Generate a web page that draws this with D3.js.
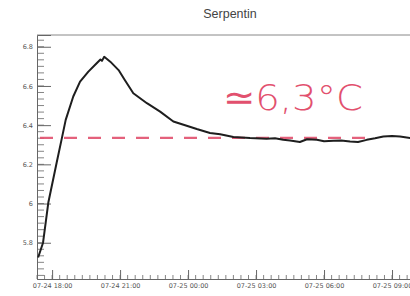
<!DOCTYPE html>
<html><head><meta charset="utf-8">
<script src="https://cdn.jsdelivr.net/npm/d3@7"></script>
<style>html,body{margin:0;padding:0;background:#fff;overflow:hidden}</style>
</head><body><svg id="c" width="410" height="296"></svg>
<script>
// ---- data ----
const title = "Serpentin";
const times = ["07-24 17:23","07-24 17:36","07-24 17:50","07-24 18:12","07-24 18:26","07-24 18:36","07-24 18:56","07-24 19:14","07-24 19:36","07-24 19:58","07-24 20:08","07-24 20:12","07-24 20:18","07-24 20:34","07-24 20:56","07-24 21:12","07-24 21:35","07-24 22:11","07-24 22:46","07-24 23:21","07-24 23:48","07-25 00:23","07-25 00:58","07-25 01:25","07-25 02:00","07-25 02:44","07-25 03:28","07-25 03:50","07-25 04:12","07-25 04:30","07-25 04:56","07-25 05:15","07-25 05:41","07-25 06:00","07-25 06:25","07-25 06:45","07-25 07:09","07-25 07:30","07-25 07:53","07-25 08:15","07-25 08:37","07-25 09:00","07-25 09:21","07-25 09:48"];
const temps = [5.725,5.80,6.005,6.208,6.335,6.427,6.546,6.622,6.673,6.716,6.735,6.728,6.749,6.724,6.681,6.632,6.563,6.512,6.469,6.419,6.402,6.380,6.360,6.354,6.340,6.334,6.331,6.333,6.325,6.322,6.314,6.328,6.325,6.318,6.320,6.322,6.317,6.314,6.325,6.333,6.342,6.345,6.342,6.334];
const refLevel = 6.335;
const refRange = ["07-24 17:20","07-25 08:00"];
const annotation = "≃6,3°C";
const yTicks = [5.8,6.0,6.2,6.4,6.6,6.8];
const xTickLabels = ["07-24 18:00","07-24 21:00","07-25 00:00","07-25 03:00","07-25 06:00","07-25 09:00"];

// ---- setup ----
const parse = d3.timeParse("%Y-%m-%d %H:%M");
const P = s => parse("2024-" + s);
const data = times.map((t,i)=>({t:P(t), v:temps[i]}));
const svg = d3.select("#c");
const L=37, R=423, T=35, B=279;
const x = d3.scaleTime().domain([P("07-24 17:20"), P("07-25 10:22")]).range([L,R]);
const y = d3.scaleLinear().domain([5.615, 6.86]).range([B,T]);
const axisCol = "#666", txtCol = "#555";

// title
svg.append("text").attr("x",230).attr("y",18).attr("text-anchor","middle")
  .attr("font-family","Liberation Sans, Arial, sans-serif").attr("font-size",12.5)
  .attr("fill","#444").text(title);

// frame line
svg.append("line").attr("x1",L).attr("x2",R).attr("y1",T).attr("y2",T).attr("stroke","#888").attr("stroke-width",1);

// y axis minor ticks
const yMinor = d3.range(0, 40).map(i=>5.6 + i*0.2/6).filter(v=>v>y.domain()[0] && v<y.domain()[1]);
const gy = svg.append("g").attr("transform",`translate(${L},0)`);
gy.selectAll("line.mn").data(yMinor).join("line").attr("x1",0).attr("x2",7)
  .attr("y1",d=>y(d)).attr("y2",d=>y(d)).attr("stroke",axisCol).attr("stroke-width",0.8);
const yAxis = d3.axisLeft(y).tickValues(yTicks).tickSize(-14).tickPadding(4)
  .tickFormat(d=>d3.format("~g")(d));
const gya = svg.append("g").attr("transform",`translate(${L},0)`).call(yAxis);
gya.select(".domain").attr("stroke",axisCol);
gya.selectAll(".tick line").attr("stroke",axisCol);
gya.selectAll(".tick text").attr("x",-4).attr("fill",txtCol).attr("font-size",6.5)
  .attr("font-family","DejaVu Sans, sans-serif");

// x axis
const xMinor = d3.timeMinute.every(20).range(x.domain()[0], x.domain()[1]);
const gx = svg.append("g").attr("transform",`translate(0,${B})`);
gx.selectAll("line.mn").data(xMinor).join("line").attr("y1",0).attr("y2",-4)
  .attr("x1",d=>x(d)).attr("x2",d=>x(d)).attr("stroke",axisCol).attr("stroke-width",0.8);
const xAxis = d3.axisBottom(x).tickValues(xTickLabels.map(P)).tickSize(-9).tickPadding(3)
  .tickFormat(d3.timeFormat("%m-%d %H:%M"));
const gxa = svg.append("g").attr("transform",`translate(0,${B})`).call(xAxis);
gxa.select(".domain").attr("stroke",axisCol);
gxa.selectAll(".tick line").attr("stroke",axisCol);
gxa.selectAll(".tick text").attr("y",4).attr("dy","0.71em").attr("fill",txtCol).attr("font-size",6.5)
  .attr("font-family","DejaVu Sans, sans-serif");

// reference dashed line
svg.append("line").attr("x1",x(P(refRange[0]))+3).attr("x2",x(P(refRange[1])))
  .attr("y1",y(refLevel)).attr("y2",y(refLevel))
  .attr("stroke","#e2506e").attr("stroke-width",2.4).attr("stroke-dasharray","13,11").attr("opacity",0.9);

// data line
svg.append("path").datum(data)
  .attr("d", d3.line().x(d=>x(d.t)).y(d=>y(d.v)))
  .attr("fill","none").attr("stroke","#1e1e1e").attr("stroke-width",2).attr("stroke-linejoin","round");

// annotation
svg.append("text").attr("x",223).attr("y",110)
  .attr("font-family","DejaVu Sans, sans-serif").attr("font-size",36).attr("font-weight",200)
  .attr("fill","#e2506e").attr("textLength",140).attr("lengthAdjust","spacingAndGlyphs")
  .text(annotation);
</script></body></html>
